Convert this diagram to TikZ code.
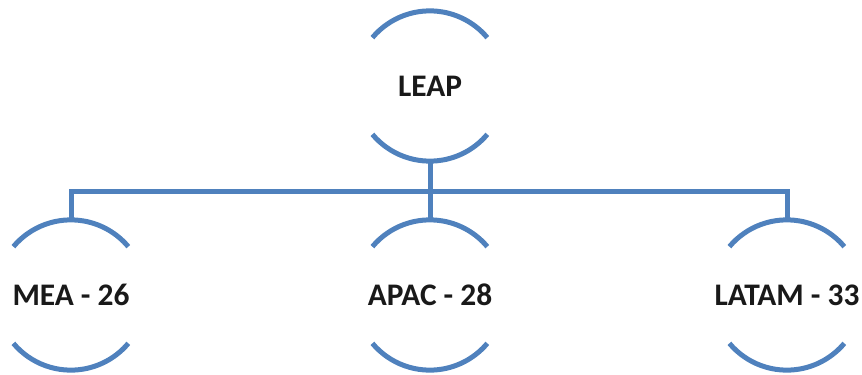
\documentclass[tikz,border=0pt]{standalone}
\usepackage{fontspec}
\setmainfont{Carlito}
\usepackage{tikz}
\usetikzlibrary{positioning}

\definecolor{orgblue}{RGB}{79,129,189}

\tikzset{
  region/.style={circle, minimum size=150bp, inner sep=0pt,
    font=\fontsize{31.5}{38}\selectfont\bfseries, text=black!90},
  bracket/.style={orgblue, line width=5bp},
  link/.style={orgblue, line width=5bp, line join=miter}
}

\begin{document}
\begin{tikzpicture}[x=1bp, y=1bp]
  \useasboundingbox (0,0) rectangle (862,374);

  % States
  \node (leap) at (430, 288) [region] {LEAP};

  \node (mea) at (71, 79) [region] {MEA - 26};
  \node (apac) at (430, 79) [region] {APAC - 28};
  \node (latam) at (787, 79) [region] {LATAM - 33};

  % Brackets round each node
  \foreach \n in {leap, mea, apac, latam} {
    \draw[bracket] (\n.140) arc[start angle=140, end angle=40, radius=75bp];
    \draw[bracket] (\n.220) arc[start angle=220, end angle=320, radius=75bp];
  }

  % Edges
  \draw[link] (leap.south) -- ++(0,-30) coordinate (bus);
  \draw[link] (bus) -| (mea.north);
  \draw[link] (bus) -| (latam.north);
  \draw[link] (bus) -- (apac.north);
\end{tikzpicture}
\end{document}
